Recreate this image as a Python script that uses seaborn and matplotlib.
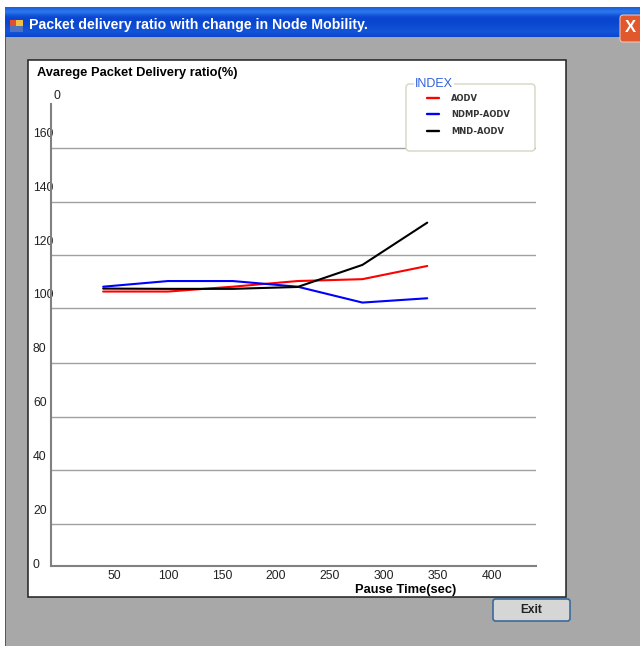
import matplotlib
matplotlib.use("Agg")
import matplotlib.pyplot as plt
import matplotlib.transforms as mtrans
import numpy as np
import pandas as pd
import seaborn as sns
from matplotlib.patches import FancyBboxPatch, Rectangle

W, H = 640, 646

pause_time = [40, 100, 160, 220, 280, 340]
aodv = [100.9, 100.9, 102.7, 104.8, 105.5, 110.4]
ndmp_aodv = [102.7, 104.8, 104.8, 102.7, 96.8, 98.4]
mnd_aodv = [102.0, 101.9, 101.9, 102.6, 110.8, 126.5]
series_names = ["AODV", "NDMP-AODV", "MND-AODV"]
series_colors = ["#ff0000", "#0000ff", "#000000"]

x_ticks = [50, 100, 150, 200, 250, 300, 350, 400]
y_ticks = [0, 20, 40, 60, 80, 100, 120, 140, 160]
top_tick = 174.3
grid_levels = [14.4, 34.4, 54.4, 74.4, 94.6, 114.5, 134.3, 154.4]

df = pd.DataFrame({
    "pause": pause_time * 3,
    "pdr": aodv + ndmp_aodv + mnd_aodv,
    "protocol": np.repeat(series_names, len(pause_time)),
})


# pixel box (from top left of the image) -> figure fraction rectangle
def box(x0, y0, x1, y1):
    return [x0 / W, 1 - y1 / H, (x1 - x0) / W, (y1 - y0) / H]


def add_rect(fig, x0, y0, x1, y1, color, z=1):
    l, b, w, h = box(x0, y0, x1, y1)
    fig.add_artist(Rectangle((l, b), w, h, transform=fig.transFigure, facecolor=color, edgecolor="none", zorder=z))


sns.set_style("white")
plt.rcParams["font.family"] = ["Liberation Sans", "DejaVu Sans"]

fig = plt.figure(figsize=(6.4, 6.46), dpi=100, facecolor="white")

# window frame
add_rect(fig, 5, 37, 640, 646, "#a8a8a8")
add_rect(fig, 5, 37, 6, 646, "#1a5fe0")
bar = fig.add_axes(box(5, 7, 640, 37), zorder=1.5)
bar.imshow(np.array([[0.35], [0.6], [0.25], [0.18], [0.2], [0.22], [0.25], [0.3], [0.2]]), aspect="auto",
           cmap=sns.blend_palette(["#0038c8", "#3a8cf8"], as_cmap=True), interpolation="bicubic", vmin=0.1, vmax=0.65)
bar.axis("off")
fig.text(29 / W, 1 - 25 / H, "Packet delivery ratio with change in Node Mobility.", color="white",
         fontsize=10.2, fontweight="bold", va="center", ha="left", zorder=4)

# little window icon
add_rect(fig, 10, 20, 16, 26, "#e05030", z=4)
add_rect(fig, 16, 20, 23, 26, "#f0c040", z=4)
add_rect(fig, 10, 26, 23, 32, "#5070c0", z=4)

# close button
l, b, w, h = box(620, 15, 642, 42)
fig.add_artist(FancyBboxPatch((l, b), w, h, transform=fig.transFigure, boxstyle="round,pad=0,rounding_size=0.005",
                              facecolor="#e0582c", edgecolor="#f0c0b0", linewidth=0.8, zorder=4))
fig.text(630 / W, 1 - 28 / H, "X", color="white", fontsize=12, fontweight="bold", ha="center", va="center", zorder=5)

# white chart panel
l, b, w, h = box(28, 60, 566, 597)
fig.add_artist(Rectangle((l, b), w, h, transform=fig.transFigure, facecolor="white", edgecolor="#202020", linewidth=1.1, zorder=1))

ax = fig.add_axes(box(51, 90, 536, 566), zorder=2)
ax.patch.set_alpha(0)
ax.set_xlim(-8.3, 440.7)
ax.set_ylim(-1.1, 175.8)

for level in grid_levels:
    ax.axhline(level, color="#a0a0a0", linewidth=1.0, zorder=1)

sns.lineplot(data=df, x="pause", y="pdr", hue="protocol", hue_order=series_names,
             palette=series_colors, linewidth=1.5, legend=False, errorbar=None, ax=ax, zorder=3)

ax.set_xticks(x_ticks)
ax.set_yticks(y_ticks + [top_tick])
ax.set_yticklabels([str(v) for v in y_ticks] + ["0"])
ax.tick_params(axis="both", length=0, labelsize=8.8, colors="#222222")
ax.tick_params(axis="x", pad=3)
ax.tick_params(axis="y", pad=13)
for label in ax.get_yticklabels():
    label.set_ha("left")
# the stray top label sits further right than the others
top_label = ax.get_yticklabels()[-1]
top_label.set_transform(top_label.get_transform() + mtrans.ScaledTranslation(0.21, 0, fig.dpi_scale_trans))
ax.set_xlabel("")
ax.set_ylabel("")
for side in ["top", "right"]:
    ax.spines[side].set_visible(False)
for side in ["left", "bottom"]:
    ax.spines[side].set_color("#808080")
    ax.spines[side].set_linewidth(1.5)
ax.spines["left"].set_bounds(-1.1, 170.6)

fig.text(37 / W, 1 - 73 / H, "Avarege Packet Delivery ratio(%)", fontsize=9.3, fontweight="bold", color="black", va="center", zorder=4)
fig.text(406 / W, 1 - 590 / H, "Pause Time(sec)", fontsize=9.3, fontweight="bold", color="black", va="center", ha="center", zorder=4)

# INDEX group box
l, b, w, h = box(406, 84, 535, 151)
fig.add_artist(FancyBboxPatch((l, b), w, h, transform=fig.transFigure, boxstyle="round,pad=0,rounding_size=0.006",
                              facecolor="white", edgecolor="#d8d8c8", linewidth=1.1, zorder=5))
fig.text(434 / W, 1 - 84 / H, "INDEX", color="#3060e0", fontsize=9, ha="center", va="center", zorder=6,
         bbox=dict(facecolor="white", edgecolor="none", pad=0.8))
handles = [plt.Line2D([], [], color=c, linewidth=1.7) for c in series_colors]
leg = fig.legend(handles, series_names, loc="upper left", bbox_to_anchor=(427 / W, 1 - 94 / H), frameon=False,
                 handlelength=1.4, handletextpad=1.48, labelspacing=0.87, borderaxespad=0, borderpad=0,
                 prop={"size": 6.0, "weight": "bold", "family": "DejaVu Sans"})
leg.set_zorder(7)
for t in leg.get_texts():
    t.set_color("#333333")

# Exit button
l, b, w, h = box(493, 599, 570, 621)
fig.add_artist(FancyBboxPatch((l, b), w, h, transform=fig.transFigure, boxstyle="round,pad=0,rounding_size=0.004",
                              facecolor="#d6d6d6", edgecolor="#3a6a9a", linewidth=1.2, zorder=4))
fig.text(531 / W, 1 - 610 / H, "Exit", fontsize=8.6, fontweight="bold", color="#222222", ha="center", va="center", zorder=5)

plt.savefig("out.png", dpi=100, facecolor=fig.get_facecolor())
plt.close()
